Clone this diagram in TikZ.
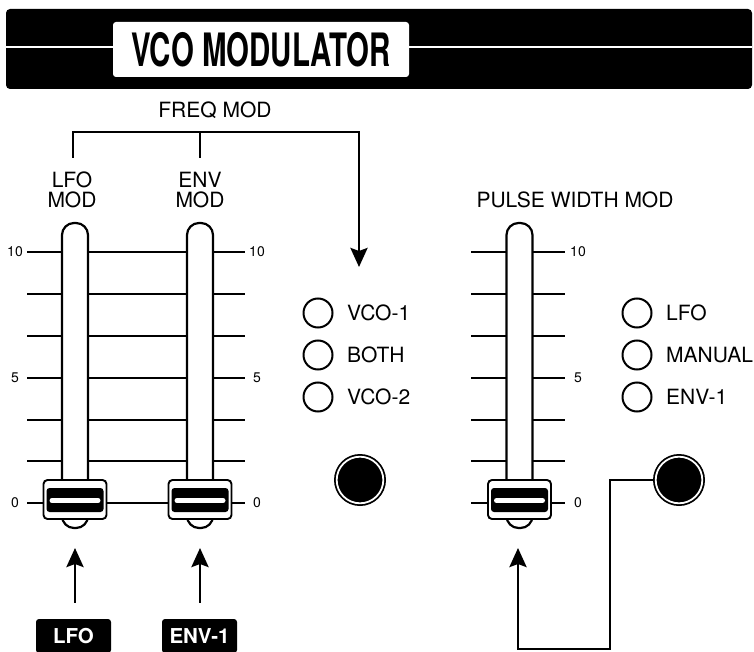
\documentclass[tikz,border=0pt]{standalone}
\usepackage{fontspec}
\setmainfont{TeX Gyre Heros}
\usetikzlibrary{arrows.meta}
\tikzset{
  tickln/.style={line width=2.8pt},
  lab/.style={font=\fontsize{21}{20}\selectfont, inner sep=0pt, align=center},
  num/.style={font=\fontsize{14}{14}\selectfont, inner sep=0pt},
  conn/.style={line width=2.9pt},
  arr/.style={conn, -{Stealth[width=17pt,length=19pt,inset=3pt]}},
  radio/.style={circle, draw, line width=2pt, minimum size=29pt, inner sep=0pt},
  tagbox/.style={fill=black, text=white, rounded corners=3pt, inner sep=0pt,
    minimum width=75pt, minimum height=34pt, font=\bfseries\fontsize{20.5}{21}\selectfont},
  btn/.style={circle, fill=black, minimum size=52pt, inner sep=0pt},
  fader/.pic={
    \draw[line width=2.2pt, fill=white, rounded corners=12pt] (-13,223) rectangle (13,528);
    \draw[line width=1.9pt, fill=white, rounded corners=4pt] (-31.5,480) rectangle (31.5,519);
    \fill[rounded corners=3pt] (-28.5,488) rectangle (28.5,512);
    \draw[white, line width=5pt, line cap=round] (-23,500.5) -- (23,500.5);
  }
}
\begin{document}
\begin{tikzpicture}[x=1pt,y=-1pt]
\path[use as bounding box] (0,0) rectangle (754,652);
\clip (0,0) rectangle (754,652);
% header
\fill[rounded corners=4pt] (6,9) rectangle (752,89);
\draw[white, line width=2.5pt] (6,47) -- (752,47);
\node[fill=white, rounded corners=3pt, minimum width=296pt, minimum height=55pt, inner sep=0pt,
      font=\bfseries\fontsize{46}{46}\selectfont] (title) at (261,49.5) {\scalebox{0.64}[1]{VCO MODULATOR}};
% freq mod bracket
\node[lab] (fm) at (215,110.5) {FREQ MOD};
\coordinate (fmL) at (73,158);
\coordinate (fmM) at (200,158);
\coordinate (fmBar) at (0,132);
\coordinate (fmTip) at (359,267);
\draw[arr] (fmL) -- (fmL |- fmBar) -- (fmTip |- fmBar) -- (fmTip);
\draw[conn] (fmM) -- (fmM |- fmBar);
\node[lab] (lfomod) at (72,190) {LFO\\MOD};
\node[lab] (envmod) at (200,190) {ENV\\MOD};
\node[lab] (pwm) at (575,200) {PULSE WIDTH MOD};
% ticks
\foreach \yy in {252,294,336,378,420,461,503}{
  \draw[tickln] (27,\yy) -- (245,\yy);
  \draw[tickln] (471,\yy) -- (565,\yy);
}
\foreach \yy/\tx in {252/10,378/5,503/0}{
  \node[num] at (15,\yy) {\tx};
  \node[num] at (257,\yy) {\tx};
  \node[num] at (578,\yy) {\tx};
}
% faders
\pic at (75,0) {fader};
\pic at (200,0) {fader};
\pic at (519.5,0) {fader};
% radio buttons
\foreach \yy/\tx/\nm in {313/VCO-1/a,355/BOTH/b,397/VCO-2/c}{
  \node[radio] (ra\nm) at (318,\yy) {};
  \node[lab, anchor=west] (la\nm) at (347,\yy) {\tx};
}
\foreach \yy/\tx/\nm in {313/LFO/a,355/MANUAL/b,397/ENV-1/c}{
  \node[radio] (rb\nm) at (637,\yy) {};
  \node[lab, anchor=west] (lb\nm) at (666,\yy) {\tx};
}
% push buttons
\node[btn] (btnA) at (360,480) {};
\draw[white, line width=1.8pt] (btnA) circle (23.3pt);
\node[btn] (btnB) at (679,480) {};
\draw[white, line width=1.8pt] (btnB) circle (23.3pt);
% source tags and arrows
\node[tagbox] (tagLFO) at (73.5,636) {LFO};
\node[tagbox] (tagENV) at (199.5,636) {ENV-1};
\coordinate (inA) at (75,548);
\coordinate (inB) at (200,548);
\coordinate (inC) at (518,548);
\draw[arr] ([yshift=16pt]tagLFO.north -| inA) -- (inA);
\draw[arr] ([yshift=16pt]tagENV.north -| inB) -- (inB);
\coordinate (pwLow) at (610,649);
\draw[arr] (btnB.west) -| (pwLow) -| (inC);
\end{tikzpicture}
\end{document}
